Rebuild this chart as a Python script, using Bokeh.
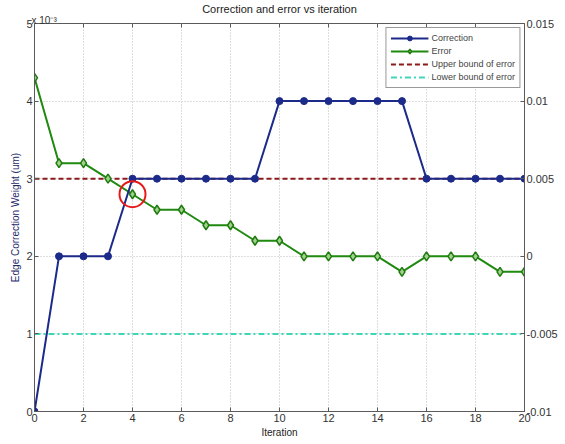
import math
from bokeh.plotting import figure
from bokeh.models import Range1d, LinearAxis, FixedTicker, Title, Legend, LegendItem
from bokeh.embed import file_html
from bokeh.resources import INLINE

iterations = list(range(21))
correction = [0, 2, 2, 2, 3, 3, 3, 3, 3, 3, 4, 4, 4, 4, 4, 4, 3, 3, 3, 3, 3]  # x 1e-3 um
error = [0.0115, 0.006, 0.006, 0.005, 0.004, 0.003, 0.003, 0.002, 0.002, 0.001, 0.001,
         0.0, 0.0, 0.0, 0.0, -0.001, 0.0, 0.0, 0.0, -0.001, -0.001]
upper_bound = 0.005
lower_bound = -0.005
highlight_index = 4
x_ticks = [0, 2, 4, 6, 8, 10, 12, 14, 16, 18, 20]
left_ticks = [0, 1, 2, 3, 4, 5]
right_ticks = [-0.01, -0.005, 0.0, 0.005, 0.01, 0.015]
right_labels = ["-0.01", "-0.005", "0", "0.005", "0.01", "0.015"]
title_text = "Correction and error vs iteration"
exponent_text = "x 10\u207b\u00b3"

FONT = "Liberation Sans"
AX = "#5a5a5a"

p = figure(width=565, height=444, output_backend="svg", toolbar_location=None,
           x_range=Range1d(0, 20), y_range=Range1d(0, 5),
           title=title_text,
           min_border_left=34, min_border_right=41, min_border_top=0, min_border_bottom=33)
p.extra_y_ranges = {"err": Range1d(-0.01, 0.015)}
p.outline_line_color = AX
p.background_fill_color = "white"
p.border_fill_color = "white"

p.title.align = "center"
p.title.text_font = FONT
p.title.text_font_size = "11px"
p.title.text_font_style = "normal"
p.title.text_color = "#222222"
p.title.standoff = 0

p.add_layout(Title(text=exponent_text, align="left", offset=-3, text_font=FONT,
                   text_font_size="10px", text_font_style="normal",
                   text_color="#333333", standoff=-4), "above")

def style_axis(ax):
    ax.major_tick_in = 4
    ax.major_tick_out = 0
    ax.minor_tick_in = 0
    ax.minor_tick_out = 0
    ax.axis_line_color = AX
    ax.major_tick_line_color = AX
    ax.major_label_text_font = FONT
    ax.major_label_text_font_size = "11px"
    ax.major_label_text_color = "#333333"
    ax.major_label_standoff = 2
    ax.axis_label_text_font = FONT
    ax.axis_label_text_font_size = "10px"
    ax.axis_label_text_font_style = "normal"
    ax.axis_label_standoff = 2

p.xaxis.ticker = FixedTicker(ticks=x_ticks)
p.yaxis.ticker = FixedTicker(ticks=left_ticks)
p.xaxis.axis_label = "Iteration"
p.yaxis.axis_label = "Edge Correction Weight (um)"
p.yaxis.axis_label_text_color = "#1f2a6b"
p.xaxis.axis_label_text_color = "#222222"
style_axis(p.xaxis[0])
style_axis(p.yaxis[0])

right = LinearAxis(y_range_name="err", ticker=FixedTicker(ticks=right_ticks),
                   major_label_overrides={t: l for t, l in zip(right_ticks, right_labels)})
style_axis(right)
p.add_layout(right, "right")

# inward ticks along the top edge of the box
p.ray(x=x_ticks, y=[5] * len(x_ticks), length=4, length_units="screen",
      angle=-math.pi / 2, line_color=AX, line_width=1)

p.xgrid.ticker = FixedTicker(ticks=x_ticks)
p.ygrid.ticker = FixedTicker(ticks=left_ticks)
for g in (p.xgrid[0], p.ygrid[0]):
    g.grid_line_color = "#bdbdbd"
    g.grid_line_dash = "1 2"
    g.grid_line_width = 1

# bounds
ub = p.line([0, 20], [upper_bound, upper_bound], y_range_name="err",
            line_color="#8b1a1a", line_dash="5 3", line_width=2)
lb = p.line([0, 20], [lower_bound, lower_bound], y_range_name="err",
            line_color="#3fd6b8", line_dash="6 3 2 3", line_width=2)

# error
el = p.line(iterations, error, y_range_name="err", line_color="#1f8a0f", line_width=2)
em = p.scatter(iterations, error, y_range_name="err", marker="diamond", size=9,
               line_color="#1f7a0f", fill_color="#9fd28a", line_width=1.5)

# correction
cl = p.line(iterations, correction, line_color="#1c2a8a", line_width=2)
cm = p.scatter(iterations, correction, marker="circle", size=7,
               line_color="#1c2a8a", fill_color="#1c2a8a")

# highlight circle
p.scatter([iterations[highlight_index]], [error[highlight_index]], y_range_name="err",
          marker="circle", size=26, fill_color=None, line_color="#e8191a", line_width=2)

legend = Legend(items=[
    LegendItem(label="Correction", renderers=[cl, cm]),
    LegendItem(label="Error", renderers=[el, em]),
    LegendItem(label="Upper bound of error", renderers=[ub]),
    LegendItem(label="Lower bound of error", renderers=[lb]),
], location="top_right")
legend.label_text_font = FONT
legend.label_text_font_size = "9px"
legend.label_height = 12
legend.glyph_height = 12
legend.glyph_width = 38
legend.spacing = 1
legend.padding = 4
legend.margin = 4
legend.border_line_color = "#333333"
legend.label_standoff = 3
p.add_layout(legend)

open("out.html", "w").write(file_html(p, INLINE))
